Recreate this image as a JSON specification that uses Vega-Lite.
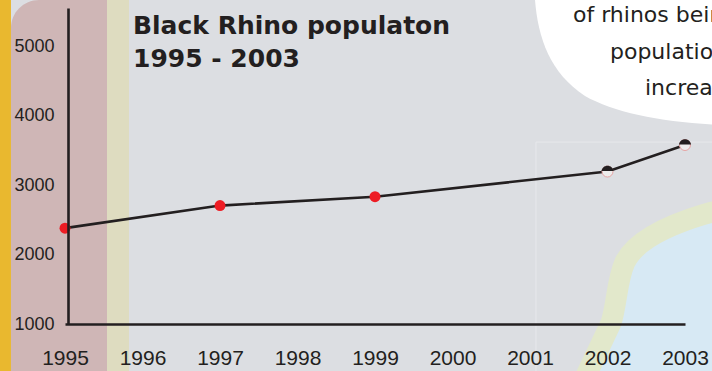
{
  "$schema": "https://vega.github.io/schema/vega-lite/v6.json",
  "width": 620,
  "height": 316,
  "autosize": {"type": "none"},
  "padding": {"left": 65, "top": 8, "right": 27, "bottom": 47},
  "background": "#dcdee2",
  "title": {
    "text": ["Black Rhino populaton", "1995 - 2003"],
    "orient": "top",
    "anchor": "start",
    "frame": "group",
    "offset": 0,
    "dx": 68,
    "dy": 92.3,
    "baseline": "alphabetic",
    "lineHeight": 33.4,
    "font": "DejaVu Sans",
    "fontWeight": "bold",
    "fontSize": 25,
    "color": "#231f20"
  },
  "data": {
    "values": [
      {"year": 1995, "population": 2380},
      {"year": 1997, "population": 2705},
      {"year": 1999, "population": 2833},
      {"year": 2002, "population": 3195},
      {"year": 2003, "population": 3577}
    ]
  },
  "layer": [
    {
      "data": {"values": [{}]},
      "mark": {"type": "rect", "color": "#e9b82f"},
      "encoding": {
        "x": {"datum": 1993, "type": "quantitative", "scale": {"domain": [1995, 2003], "nice": false, "zero": false}},
        "x2": {"datum": 1994.303},
        "y": {"datum": 0, "type": "quantitative", "scale": {"domain": [1000, 5550], "nice": false, "zero": false}},
        "y2": {"datum": 5665}
      }
    },
    {
      "data": {"values": [{}]},
      "mark": {"type": "rect", "color": "#cfb6b6", "cornerRadiusTopLeft": 28},
      "encoding": {
        "x": {"datum": 1994.303, "type": "quantitative"},
        "x2": {"datum": 1995.542},
        "y": {"datum": 0, "type": "quantitative"},
        "y2": {"datum": 5665}
      }
    },
    {
      "data": {"values": [{}]},
      "mark": {"type": "rect", "color": "#dedcc0"},
      "encoding": {
        "x": {"datum": 1995.542, "type": "quantitative"},
        "x2": {"datum": 1995.826},
        "y": {"datum": 0, "type": "quantitative"},
        "y2": {"datum": 5665}
      }
    },
    {
      "data": {"values": [{}]},
      "mark": {"type": "rect", "fill": null, "fillOpacity": 0, "stroke": "#e7e8ec", "strokeWidth": 1},
      "encoding": {
        "x": {"datum": 2001.077, "type": "quantitative"},
        "x2": {"datum": 2005},
        "y": {"datum": 0, "type": "quantitative"},
        "y2": {"datum": 3620}
      }
    },
    {
      "data": {"values": [{}]},
      "mark": {
        "type": "point",
        "shape": "M -122 100 L -74 -1 C -68 -20 -68 -45 -60 -62 C -50 -82 -20 -98 20 -110 L 200 -156 L 200 100 Z",
        "size": 4,
        "filled": true,
        "fill": "#d7e9f4",
        "stroke": "#e2e8cb",
        "strokeWidth": 21,
        "opacity": 1
      },
      "encoding": {
        "x": {"datum": 2003, "type": "quantitative"},
        "y": {"datum": 1000, "type": "quantitative"}
      }
    },
    {
      "data": {"values": [{}]},
      "mark": {
        "type": "point",
        "shape": "M -150 -8 C -147 30 -135 65 -100 88 C -70 105 -20 115 40 117 L 200 117 L 200 -8 Z",
        "size": 4,
        "filled": true,
        "fill": "#ffffff",
        "strokeWidth": 0,
        "opacity": 1
      },
      "encoding": {
        "x": {"datum": 2003, "type": "quantitative"},
        "y": {"datum": 5550, "type": "quantitative"}
      }
    },
    {
      "data": {"values": [{}]},
      "mark": {"type": "text", "text": "of rhinos being", "align": "left", "baseline": "alphabetic", "font": "DejaVu Sans", "fontSize": 22, "color": "#231f20"},
      "encoding": {
        "x": {"datum": 2001.555, "type": "quantitative"},
        "y": {"datum": 5353, "type": "quantitative"}
      }
    },
    {
      "data": {"values": [{}]},
      "mark": {"type": "text", "text": "population is", "align": "left", "baseline": "alphabetic", "font": "DejaVu Sans", "fontSize": 22, "color": "#231f20"},
      "encoding": {
        "x": {"datum": 2002.032, "type": "quantitative"},
        "y": {"datum": 4811, "type": "quantitative"}
      }
    },
    {
      "data": {"values": [{}]},
      "mark": {"type": "text", "text": "increasing", "align": "left", "baseline": "alphabetic", "font": "DejaVu Sans", "fontSize": 22, "color": "#231f20"},
      "encoding": {
        "x": {"datum": 2002.484, "type": "quantitative"},
        "y": {"datum": 4297, "type": "quantitative"}
      }
    },
    {
      "mark": {"type": "line", "color": "#231f20", "strokeWidth": 2.6},
      "encoding": {
        "x": {
          "field": "year",
          "type": "quantitative",
          "axis": {
            "title": null,
            "values": [1995, 1996, 1997, 1998, 1999, 2000, 2001, 2002, 2003],
            "format": "d",
            "ticks": false,
            "grid": false,
            "domainColor": "#231f20",
            "domainWidth": 2.6,
            "labelFont": "Liberation Sans",
            "labelFontSize": 21,
            "labelColor": "#231f20",
            "labelPadding": 23.5,
            "labelDx": 4,
            "labelFlush": false,
            "labelOverlap": false,
            "zindex": 1
          }
        },
        "y": {
          "field": "population",
          "type": "quantitative",
          "axis": {
            "title": null,
            "values": [1000, 2000, 3000, 4000, 5000],
            "format": "d",
            "ticks": false,
            "grid": false,
            "offset": -3,
            "domainColor": "#231f20",
            "domainWidth": 2.6,
            "labelFont": "Liberation Sans",
            "labelFontSize": 18,
            "labelColor": "#231f20",
            "labelPadding": 14,
            "labelFlush": false,
            "labelOverlap": false,
            "zindex": 1
          }
        }
      }
    },
    {
      "transform": [{"filter": "datum.year <= 1999"}],
      "mark": {"type": "circle", "color": "#ed1c24", "size": 120, "opacity": 1},
      "encoding": {
        "x": {"field": "year", "type": "quantitative"},
        "y": {"field": "population", "type": "quantitative"}
      }
    },
    {
      "transform": [{"filter": "datum.year >= 2002"}],
      "mark": {"type": "circle", "fill": "#eeeded", "stroke": "#e6a3a3", "strokeWidth": 1, "size": 120, "opacity": 1},
      "encoding": {
        "x": {"field": "year", "type": "quantitative"},
        "y": {"field": "population", "type": "quantitative"}
      }
    },
    {
      "transform": [{"filter": "datum.year >= 2002"}],
      "mark": {"type": "point", "shape": "M -0.99 -0.1 A 1 1 0 0 1 0.99 -0.1 Z", "filled": true, "fill": "#231f20", "size": 150, "opacity": 1, "strokeWidth": 0},
      "encoding": {
        "x": {"field": "year", "type": "quantitative"},
        "y": {"field": "population", "type": "quantitative"}
      }
    }
  ],
  "config": {
    "view": {"stroke": null}
  }
}
